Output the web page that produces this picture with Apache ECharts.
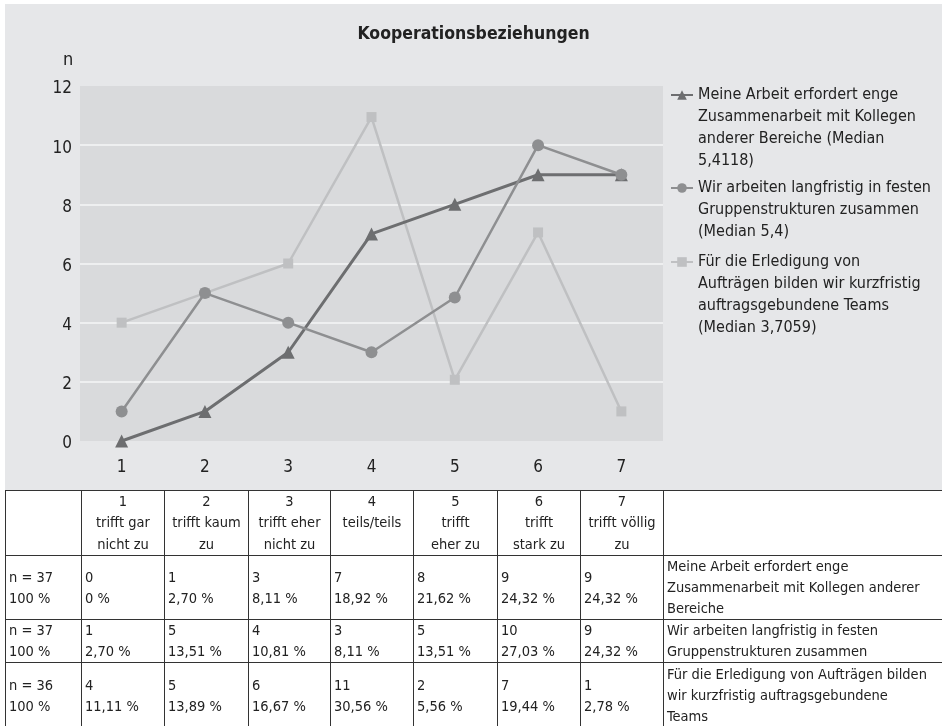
<!DOCTYPE html>
<html><head><meta charset="utf-8">
<script src="https://cdn.jsdelivr.net/npm/echarts@6/dist/echarts.min.js"></script>
<style>
html,body{margin:0;padding:0;background:#fff;}
body{width:942px;height:726px;overflow:hidden;position:relative;font-family:'DejaVu Sans Condensed','Liberation Sans Narrow',sans-serif;color:#222;}
#chart{position:absolute;left:5px;top:4px;width:937px;height:487px;}
#tbl{position:absolute;left:5px;top:490px;width:937px;border-collapse:collapse;table-layout:fixed;font-size:14.5px;color:#222;}
#tbl td{border:1.5px solid #333;padding:0 3px;overflow:visible;white-space:pre;line-height:21px;vertical-align:middle;text-align:left;}
#tbl td.h{text-align:center;line-height:21.3px;}
</style></head>
<body>
<div id="chart"></div>
<table id="tbl"></table>
<script>
// ---- data ----
const titleText = 'Kooperationsbeziehungen';
const yAxisName = 'n';
const categories = ['1','2','3','4','5','6','7'];
const seriesNames = [
  'Meine Arbeit erfordert enge Zusammenarbeit mit Kollegen anderer Bereiche (Median 5,4118)',
  'Wir arbeiten langfristig in festen Gruppenstrukturen zusammen (Median 5,4)',
  'Für die Erledigung von Aufträgen bilden wir kurzfristig auftragsgebundene Teams (Median 3,7059)'
];
const legendLines = [
  ['Meine Arbeit erfordert enge','Zusammenarbeit mit Kollegen','anderer Bereiche (Median','5,4118)'],
  ['Wir arbeiten langfristig in festen','Gruppenstrukturen zusammen','(Median 5,4)'],
  ['Für die Erledigung von','Aufträgen bilden wir kurzfristig','auftragsgebundene Teams','(Median 3,7059)']
];
const valuesArbeit = [0, 1, 3, 7, 8, 9, 9];
const valuesGruppen = [1, 5, 4, 3, 4.85, 10, 9];
const valuesTeams = [4, 5, 6, 10.95, 2.07, 7.05, 1];

// table
const tableHeader = ['', '1\ntrifft gar\nnicht zu', '2\ntrifft kaum\nzu', '3\ntrifft eher\nnicht zu', '4\nteils/teils\n ', '5\ntrifft\neher zu', '6\ntrifft\nstark zu', '7\ntrifft völlig\nzu', ''];
const rowN = ['n = 37\n100 %', 'n = 37\n100 %', 'n = 36\n100 %'];
const countsArbeit = ['0','1','3','7','8','9','9'];
const pctArbeit = ['0 %','2,70 %','8,11 %','18,92 %','21,62 %','24,32 %','24,32 %'];
const countsGruppen = ['1','5','4','3','5','10','9'];
const pctGruppen = ['2,70 %','13,51 %','10,81 %','8,11 %','13,51 %','27,03 %','24,32 %'];
const countsTeams = ['4','5','6','11','2','7','1'];
const pctTeams = ['11,11 %','13,89 %','16,67 %','30,56 %','5,56 %','19,44 %','2,78 %'];
const rowLabels = [
  'Meine Arbeit erfordert enge\nZusammenarbeit mit Kollegen anderer\nBereiche',
  'Wir arbeiten langfristig in festen\nGruppenstrukturen zusammen',
  'Für die Erledigung von Aufträgen bilden\nwir kurzfristig auftragsgebundene\nTeams'
];

// ---- table build ----
const colW = [76, 83, 84, 82, 83, 84, 83, 83, 279];
const rowH = [65, 63, 42, 66];
(function(){
  const t = document.getElementById('tbl');
  const cg = document.createElement('colgroup');
  colW.forEach(w => { const c = document.createElement('col'); c.style.width = w + 'px'; cg.appendChild(c); });
  t.appendChild(cg);
  const addRow = (cells, h, header) => {
    const tr = document.createElement('tr');
    tr.style.height = h + 'px';
    cells.forEach(txt => {
      const td = document.createElement('td');
      if (header) td.className = 'h';
      td.textContent = txt;
      tr.appendChild(td);
    });
    t.appendChild(tr);
  };
  addRow(tableHeader, rowH[0], true);
  const rows = [[countsArbeit, pctArbeit],[countsGruppen, pctGruppen],[countsTeams, pctTeams]];
  rows.forEach((r, i) => {
    const cells = [rowN[i]];
    r[0].forEach((c, j) => cells.push(c + '\n' + r[1][j]));
    cells.push(rowLabels[i]);
    addRow(cells, rowH[i+1], false);
  });
})();

// ---- chart ----
const FONT = "'DejaVu Sans Condensed','Liberation Sans Narrow',sans-serif";
const colors = ['#6d6e70', '#8e8f91', '#bfc0c2'];
const L = 22;
function legendFor(idx, top) {
  const n = legendLines[idx].length;
  // leading blank lines keep the icon level with the first text line
  const pad = new Array(n - 1).fill('');
  return {
    show: true,
    data: [seriesNames[idx]],
    left: 665,
    top: top,
    orient: 'vertical',
    itemWidth: 22,
    itemHeight: 12,
    padding: 0,
    formatter: () => pad.concat(legendLines[idx]).join('\n'),
    textStyle: { fontFamily: FONT, fontSize: 16, color: '#222', lineHeight: L }
  };
}
const chart = echarts.init(document.getElementById('chart'), null, { renderer: 'canvas' });
chart.setOption({
  backgroundColor: '#e6e7e9',
  animation: false,
  title: {
    text: titleText, left: 'center', top: 16,
    textStyle: { fontFamily: FONT, fontSize: 17.5, fontWeight: 'bold', color: '#222' }
  },
  graphic: [{
    type: 'text', left: 58, top: 47,
    style: { text: yAxisName, fontFamily: FONT, fontSize: 18, fill: '#222' }
  }],
  legend: [legendFor(0, 14), legendFor(1, 129), legendFor(2, 181)],
  grid: {
    left: 75, top: 82, width: 583, height: 355,
    show: true, backgroundColor: '#d9dadc', borderWidth: 0
  },
  xAxis: {
    type: 'category', data: categories, boundaryGap: true,
    axisLine: { show: false }, axisTick: { show: false },
    axisLabel: { fontFamily: FONT, fontSize: 17, color: '#222', margin: 18 }
  },
  yAxis: {
    type: 'value', min: 0, max: 12, interval: 2,
    axisLine: { show: false }, axisTick: { show: false },
    axisLabel: { fontFamily: FONT, fontSize: 17, color: '#222', margin: 8, verticalAlign: 'top', lineHeight: 6 },
    splitLine: { show: true, showMinLine: false, showMaxLine: false, lineStyle: { color: '#eeeff0', width: 2 } }
  },
  series: [
    { name: seriesNames[2], type: 'line', data: valuesTeams, symbol: 'rect', symbolSize: 10,
      lineStyle: { color: colors[2], width: 2.5 }, itemStyle: { color: colors[2] }, z: 2 },
    { name: seriesNames[0], type: 'line', data: valuesArbeit, symbol: 'triangle', symbolSize: 13,
      lineStyle: { color: colors[0], width: 3 }, itemStyle: { color: colors[0] }, z: 3 },
    { name: seriesNames[1], type: 'line', data: valuesGruppen, symbol: 'circle', symbolSize: 12,
      lineStyle: { color: colors[1], width: 2.5 }, itemStyle: { color: colors[1] }, z: 4 }
  ]
});
</script>
</body></html>
